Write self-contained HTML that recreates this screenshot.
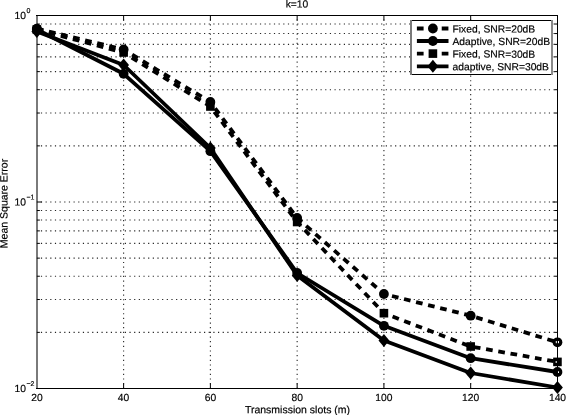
<!DOCTYPE html>
<html><head><meta charset="utf-8"><style>
html,body{margin:0;padding:0;background:#fff;width:566px;height:415px;overflow:hidden}
svg{display:block;filter:grayscale(1)}
text{font-family:"Liberation Sans",sans-serif;fill:#000;stroke:#000;stroke-width:0.18px}
</style></head><body>
<svg width="566" height="415" viewBox="0 0 566 415">
<rect width="566" height="415" fill="#fff"/>

<g opacity="0.85"><line x1="123.62" y1="15.5" x2="123.62" y2="388.5" stroke="#000" stroke-width="1.1" stroke-dasharray="1.2 3.46" stroke-dashoffset="0.6"/><line x1="210.38" y1="15.5" x2="210.38" y2="388.5" stroke="#000" stroke-width="1.1" stroke-dasharray="1.2 3.46" stroke-dashoffset="0.6"/><line x1="297.15" y1="15.5" x2="297.15" y2="388.5" stroke="#000" stroke-width="1.1" stroke-dasharray="1.2 3.46" stroke-dashoffset="0.6"/><line x1="383.92" y1="15.5" x2="383.92" y2="388.5" stroke="#000" stroke-width="1.1" stroke-dasharray="1.2 3.46" stroke-dashoffset="0.6"/><line x1="470.68" y1="15.5" x2="470.68" y2="388.5" stroke="#000" stroke-width="1.1" stroke-dasharray="1.2 3.46" stroke-dashoffset="0.6"/><line x1="36.85" y1="332.36" x2="557.45" y2="332.36" stroke="#000" stroke-width="1.1" stroke-dasharray="1.2 3.46" stroke-dashoffset="0.6"/><line x1="36.85" y1="299.52" x2="557.45" y2="299.52" stroke="#000" stroke-width="1.1" stroke-dasharray="1.2 3.46" stroke-dashoffset="0.6"/><line x1="36.85" y1="276.22" x2="557.45" y2="276.22" stroke="#000" stroke-width="1.1" stroke-dasharray="1.2 3.46" stroke-dashoffset="0.6"/><line x1="36.85" y1="258.14" x2="557.45" y2="258.14" stroke="#000" stroke-width="1.1" stroke-dasharray="1.2 3.46" stroke-dashoffset="0.6"/><line x1="36.85" y1="243.37" x2="557.45" y2="243.37" stroke="#000" stroke-width="1.1" stroke-dasharray="1.2 3.46" stroke-dashoffset="0.6"/><line x1="36.85" y1="230.89" x2="557.45" y2="230.89" stroke="#000" stroke-width="1.1" stroke-dasharray="1.2 3.46" stroke-dashoffset="0.6"/><line x1="36.85" y1="220.07" x2="557.45" y2="220.07" stroke="#000" stroke-width="1.1" stroke-dasharray="1.2 3.46" stroke-dashoffset="0.6"/><line x1="36.85" y1="210.53" x2="557.45" y2="210.53" stroke="#000" stroke-width="1.1" stroke-dasharray="1.2 3.46" stroke-dashoffset="0.6"/><line x1="36.85" y1="202.00" x2="557.45" y2="202.00" stroke="#000" stroke-width="1.1" stroke-dasharray="1.2 3.46" stroke-dashoffset="0.6"/><line x1="36.85" y1="145.86" x2="557.45" y2="145.86" stroke="#000" stroke-width="1.1" stroke-dasharray="1.2 3.46" stroke-dashoffset="0.6"/><line x1="36.85" y1="113.02" x2="557.45" y2="113.02" stroke="#000" stroke-width="1.1" stroke-dasharray="1.2 3.46" stroke-dashoffset="0.6"/><line x1="36.85" y1="89.72" x2="557.45" y2="89.72" stroke="#000" stroke-width="1.1" stroke-dasharray="1.2 3.46" stroke-dashoffset="0.6"/><line x1="36.85" y1="71.64" x2="557.45" y2="71.64" stroke="#000" stroke-width="1.1" stroke-dasharray="1.2 3.46" stroke-dashoffset="0.6"/><line x1="36.85" y1="56.87" x2="557.45" y2="56.87" stroke="#000" stroke-width="1.1" stroke-dasharray="1.2 3.46" stroke-dashoffset="0.6"/><line x1="36.85" y1="44.39" x2="557.45" y2="44.39" stroke="#000" stroke-width="1.1" stroke-dasharray="1.2 3.46" stroke-dashoffset="0.6"/><line x1="36.85" y1="33.57" x2="557.45" y2="33.57" stroke="#000" stroke-width="1.1" stroke-dasharray="1.2 3.46" stroke-dashoffset="0.6"/><line x1="36.85" y1="24.03" x2="557.45" y2="24.03" stroke="#000" stroke-width="1.1" stroke-dasharray="1.2 3.46" stroke-dashoffset="0.6"/></g>
<rect x="36" y="15" width="2" height="374" fill="#7a7a7a"/>
<rect x="36" y="15" width="522" height="1" fill="#000"/>
<rect x="36" y="388" width="522" height="1" fill="#000"/>
<rect x="557" y="15" width="1" height="374" fill="#000"/>
<g stroke="#000" stroke-width="1"><line x1="123.62" y1="15.5" x2="123.62" y2="20.5"/><line x1="123.62" y1="388.5" x2="123.62" y2="383.5"/><line x1="210.38" y1="15.5" x2="210.38" y2="20.5"/><line x1="210.38" y1="388.5" x2="210.38" y2="383.5"/><line x1="297.15" y1="15.5" x2="297.15" y2="20.5"/><line x1="297.15" y1="388.5" x2="297.15" y2="383.5"/><line x1="383.92" y1="15.5" x2="383.92" y2="20.5"/><line x1="383.92" y1="388.5" x2="383.92" y2="383.5"/><line x1="470.68" y1="15.5" x2="470.68" y2="20.5"/><line x1="470.68" y1="388.5" x2="470.68" y2="383.5"/><line x1="36.85" y1="332.36" x2="39.85" y2="332.36"/><line x1="557.45" y1="332.36" x2="554.45" y2="332.36"/><line x1="36.85" y1="299.52" x2="39.85" y2="299.52"/><line x1="557.45" y1="299.52" x2="554.45" y2="299.52"/><line x1="36.85" y1="276.22" x2="39.85" y2="276.22"/><line x1="557.45" y1="276.22" x2="554.45" y2="276.22"/><line x1="36.85" y1="258.14" x2="39.85" y2="258.14"/><line x1="557.45" y1="258.14" x2="554.45" y2="258.14"/><line x1="36.85" y1="243.37" x2="39.85" y2="243.37"/><line x1="557.45" y1="243.37" x2="554.45" y2="243.37"/><line x1="36.85" y1="230.89" x2="39.85" y2="230.89"/><line x1="557.45" y1="230.89" x2="554.45" y2="230.89"/><line x1="36.85" y1="220.07" x2="39.85" y2="220.07"/><line x1="557.45" y1="220.07" x2="554.45" y2="220.07"/><line x1="36.85" y1="210.53" x2="39.85" y2="210.53"/><line x1="557.45" y1="210.53" x2="554.45" y2="210.53"/><line x1="36.85" y1="202.00" x2="41.85" y2="202.00"/><line x1="557.45" y1="202.00" x2="552.45" y2="202.00"/><line x1="36.85" y1="145.86" x2="39.85" y2="145.86"/><line x1="557.45" y1="145.86" x2="554.45" y2="145.86"/><line x1="36.85" y1="113.02" x2="39.85" y2="113.02"/><line x1="557.45" y1="113.02" x2="554.45" y2="113.02"/><line x1="36.85" y1="89.72" x2="39.85" y2="89.72"/><line x1="557.45" y1="89.72" x2="554.45" y2="89.72"/><line x1="36.85" y1="71.64" x2="39.85" y2="71.64"/><line x1="557.45" y1="71.64" x2="554.45" y2="71.64"/><line x1="36.85" y1="56.87" x2="39.85" y2="56.87"/><line x1="557.45" y1="56.87" x2="554.45" y2="56.87"/><line x1="36.85" y1="44.39" x2="39.85" y2="44.39"/><line x1="557.45" y1="44.39" x2="554.45" y2="44.39"/><line x1="36.85" y1="33.57" x2="39.85" y2="33.57"/><line x1="557.45" y1="33.57" x2="554.45" y2="33.57"/><line x1="36.85" y1="24.03" x2="39.85" y2="24.03"/><line x1="557.45" y1="24.03" x2="554.45" y2="24.03"/></g>
<text transform="rotate(0.04 36.9 401)" x="36.9" y="401" font-size="10.3" text-anchor="middle">20</text>
<text transform="rotate(0.04 123.6 401)" x="123.6" y="401" font-size="10.3" text-anchor="middle">40</text>
<text transform="rotate(0.04 210.4 401)" x="210.4" y="401" font-size="10.3" text-anchor="middle">60</text>
<text transform="rotate(0.04 297.2 401)" x="297.2" y="401" font-size="10.3" text-anchor="middle">80</text>
<text transform="rotate(0.04 383.9 401)" x="383.9" y="401" font-size="10.3" text-anchor="middle">100</text>
<text transform="rotate(0.04 470.7 401)" x="470.7" y="401" font-size="10.3" text-anchor="middle">120</text>
<text transform="rotate(0.04 557.5 401)" x="557.5" y="401" font-size="10.3" text-anchor="middle">140</text>
<text transform="rotate(0.04 26 19)" x="26" y="19" font-size="10.3" text-anchor="end">10</text>
<text transform="rotate(0.04 26 19)" x="26.5" y="13" font-size="7" >0</text>
<text transform="rotate(0.04 26 205.5)" x="26" y="205.5" font-size="10.3" text-anchor="end">10</text>
<text transform="rotate(0.04 26 205.5)" x="26.5" y="199.5" font-size="7" >&#8722;1</text>
<text transform="rotate(0.04 26 392)" x="26" y="392" font-size="10.3" text-anchor="end">10</text>
<text transform="rotate(0.04 26 392)" x="26.5" y="386" font-size="7" >&#8722;2</text>
<text transform="rotate(0.04 297 7)" x="297" y="7.5" font-size="10.3" text-anchor="middle">k=10</text>
<text transform="rotate(0.04 297 413)" x="297.5" y="413.2" font-size="10.5" text-anchor="middle">Transmission slots (m)</text>
<text transform="translate(7.6,203.5) rotate(-89.96)" font-size="10.5" text-anchor="middle">Mean Square Error</text>
<polyline points="36.85,28.6 123.62,49.5 210.38,102 297.15,218 383.92,294 470.68,315.7 557.45,342.3" fill="none" stroke="#000" stroke-width="3.8" stroke-linejoin="round" stroke-dasharray="6.7 5.71"/>
<circle cx="36.85" cy="28.6" r="4.9" fill="#000"/>
<circle cx="123.62" cy="49.5" r="4.9" fill="#000"/>
<circle cx="210.38" cy="102" r="4.9" fill="#000"/>
<circle cx="297.15" cy="218" r="4.9" fill="#000"/>
<circle cx="383.92" cy="294" r="4.9" fill="#000"/>
<circle cx="470.68" cy="315.7" r="4.9" fill="#000"/>
<circle cx="557.45" cy="342.3" r="4.9" fill="#000"/>
<polyline points="36.85,29.5 123.62,73.8 210.38,151.2 297.15,273 383.92,325.8 470.68,358.2 557.45,372" fill="none" stroke="#000" stroke-width="3.8" stroke-linejoin="round"/>
<circle cx="36.85" cy="29.5" r="4.9" fill="#000"/>
<circle cx="123.62" cy="73.8" r="4.9" fill="#000"/>
<circle cx="210.38" cy="151.2" r="4.9" fill="#000"/>
<circle cx="297.15" cy="273" r="4.9" fill="#000"/>
<circle cx="383.92" cy="325.8" r="4.9" fill="#000"/>
<circle cx="470.68" cy="358.2" r="4.9" fill="#000"/>
<circle cx="557.45" cy="372" r="4.9" fill="#000"/>
<polyline points="36.85,29.5 123.62,52.5 210.38,106.5 297.15,222 383.92,313.2 470.68,346.5 557.45,361.9" fill="none" stroke="#000" stroke-width="3.8" stroke-linejoin="round" stroke-dasharray="6.7 5.71"/>
<rect x="32.55" y="25.2" width="8.6" height="8.6" fill="#000"/>
<rect x="119.32" y="48.2" width="8.6" height="8.6" fill="#000"/>
<rect x="206.08" y="102.2" width="8.6" height="8.6" fill="#000"/>
<rect x="292.85" y="217.7" width="8.6" height="8.6" fill="#000"/>
<rect x="379.62" y="308.9" width="8.6" height="8.6" fill="#000"/>
<rect x="466.38" y="342.2" width="8.6" height="8.6" fill="#000"/>
<rect x="553.15" y="357.59999999999997" width="8.6" height="8.6" fill="#000"/>
<polyline points="36.85,31.6 123.62,65 210.38,148 297.15,275.5 383.92,340.5 470.68,373 557.45,387.5" fill="none" stroke="#000" stroke-width="3.8" stroke-linejoin="round"/>
<path d="M36.85 25.1L42.25 31.6L36.85 38.1L31.45 31.6Z" fill="#000"/>
<path d="M123.62 58.5L129.02 65L123.62 71.5L118.22 65Z" fill="#000"/>
<path d="M210.38 141.5L215.78 148L210.38 154.5L204.98 148Z" fill="#000"/>
<path d="M297.15 269.0L302.55 275.5L297.15 282.0L291.75 275.5Z" fill="#000"/>
<path d="M383.92 334.0L389.32 340.5L383.92 347.0L378.52 340.5Z" fill="#000"/>
<path d="M470.68 366.5L476.08 373L470.68 379.5L465.28 373Z" fill="#000"/>
<path d="M557.45 381.0L562.85 387.5L557.45 394.0L552.05 387.5Z" fill="#000"/>
<rect x="410" y="20" width="143" height="55" fill="#fff"/>
<rect x="410" y="20" width="143" height="1" fill="#000"/><rect x="410" y="74" width="143" height="1" fill="#000"/>
<rect x="410" y="20" width="2" height="55" fill="#7a7a7a"/><rect x="551" y="20" width="2" height="55" fill="#8a8a8a"/>
<line x1="416.9" y1="28.5" x2="448.5" y2="28.5" stroke="#000" stroke-width="3.8" stroke-dasharray="6.7 5.71"/>
<circle cx="432.90" cy="28.5" r="4.9" fill="#000"/>
<text transform="rotate(0.04 452 28.5)" x="452.5" y="32.5" font-size="10.3">Fixed, SNR=20dB</text>
<line x1="416.9" y1="41.0" x2="448.5" y2="41.0" stroke="#000" stroke-width="3.8"/>
<circle cx="432.90" cy="41.0" r="4.9" fill="#000"/>
<text transform="rotate(0.04 452 41.0)" x="452.5" y="45.0" font-size="10.3">Adaptive, SNR=20dB</text>
<line x1="416.9" y1="53.6" x2="448.5" y2="53.6" stroke="#000" stroke-width="3.8" stroke-dasharray="6.7 5.71"/>
<rect x="428.60" y="49.300000000000004" width="8.6" height="8.6" fill="#000"/>
<text transform="rotate(0.04 452 53.6)" x="452.5" y="57.6" font-size="10.3">Fixed, SNR=30dB</text>
<line x1="416.9" y1="66.3" x2="448.5" y2="66.3" stroke="#000" stroke-width="3.8"/>
<path d="M432.90 59.8L438.30 66.3L432.90 72.8L427.50 66.3Z" fill="#000"/>
<text transform="rotate(0.04 452 66.3)" x="452.5" y="70.3" font-size="10.3">adaptive, SNR=30dB</text>
<g fill="#fff"><rect x="555.8" y="341" width="1" height="2.2"/><rect x="558" y="341" width="1" height="2.2"/><rect x="555.7" y="361" width="1" height="2"/><rect x="558" y="371.3" width="1" height="1.7"/></g>
</svg></body></html>
